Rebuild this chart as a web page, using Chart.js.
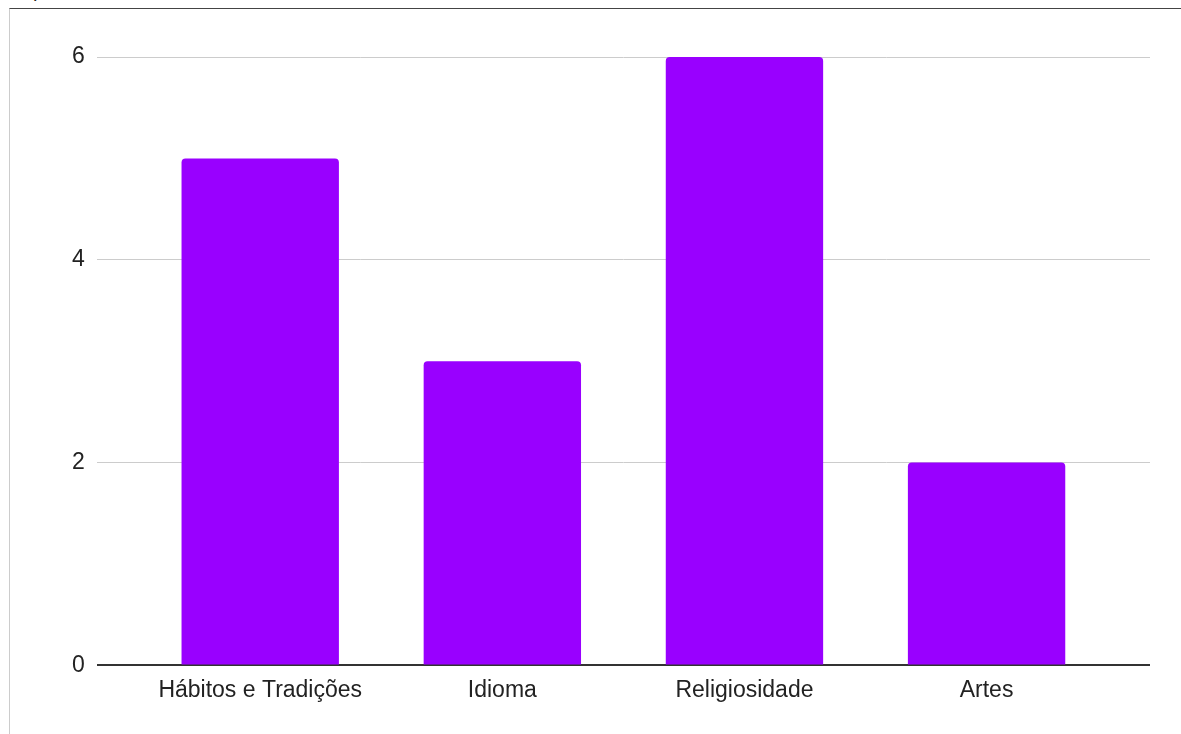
<!DOCTYPE html>
<html>
<head>
<meta charset="utf-8">
<script src="https://cdn.jsdelivr.net/npm/chart.js@4"></script>
<style>
  html, body { margin: 0; padding: 0; background: #fff; }
  body { width: 1181px; height: 734px; position: relative; overflow: hidden; }
  .frame {
    position: absolute; left: 9px; top: 8px; right: 0; bottom: 0;
    border-top: 1px solid #444; border-left: 1px solid #ccc;
  }
  .cut {
    position: absolute; left: 33px; top: -21px;
    font: 20px "Liberation Sans", Arial, sans-serif; color: #222;
  }
  canvas { position: absolute; left: 0; top: 0; }
</style>
</head>
<body>
<div class="cut">p</div>
<div class="frame"></div>
<canvas id="chart" width="1181" height="734"></canvas>
<script>
const categories = ['Hábitos e Tradições', 'Idioma', 'Religiosidade', 'Artes'];
const values = [5, 3, 6, 2];
const yTicks = [0, 2, 4, 6];

const ctx = document.getElementById('chart').getContext('2d');
const font = { family: '"Liberation Sans", Arial, sans-serif', size: 23 };

new Chart(ctx, {
  type: 'bar',
  data: {
    datasets: [{
      data: values.map((v, i) => ({ x: i, y: v })),
      backgroundColor: '#9900ff',
      borderRadius: { topLeft: 4, topRight: 4 },
      borderSkipped: 'start',
      categoryPercentage: 1,
      barPercentage: 0.65
    }]
  },
  options: {
    responsive: false,
    animation: false,
    layout: { padding: { left: 60, right: 31, top: 57, bottom: 27 } },
    plugins: { legend: { display: false }, tooltip: { enabled: false } },
    scales: {
      x: {
        type: 'linear',
        offset: false,
        min: -0.675,
        max: 3.675,
        afterBuildTicks: scale => { scale.ticks = categories.map((c, i) => ({ value: i })); },
        ticks: {
          callback: v => categories[v],
          color: '#222',
          font: font,
          padding: 3,
          maxRotation: 0,
          autoSkip: false
        },
        grid: { display: false },
        border: { display: false }
      },
      y: {
        min: 0,
        max: 6,
        afterBuildTicks: scale => { scale.ticks = yTicks.map(v => ({ value: v })); },
        ticks: { color: '#222', font: font, padding: 12 },
        grid: {
          drawTicks: false,
          color: c => c.tick.value === 0 ? '#333' : '#cccccc',
          lineWidth: c => c.tick.value === 0 ? 2 : 1
        },
        border: { display: false }
      }
    }
  }
});
</script>
</body>
</html>
